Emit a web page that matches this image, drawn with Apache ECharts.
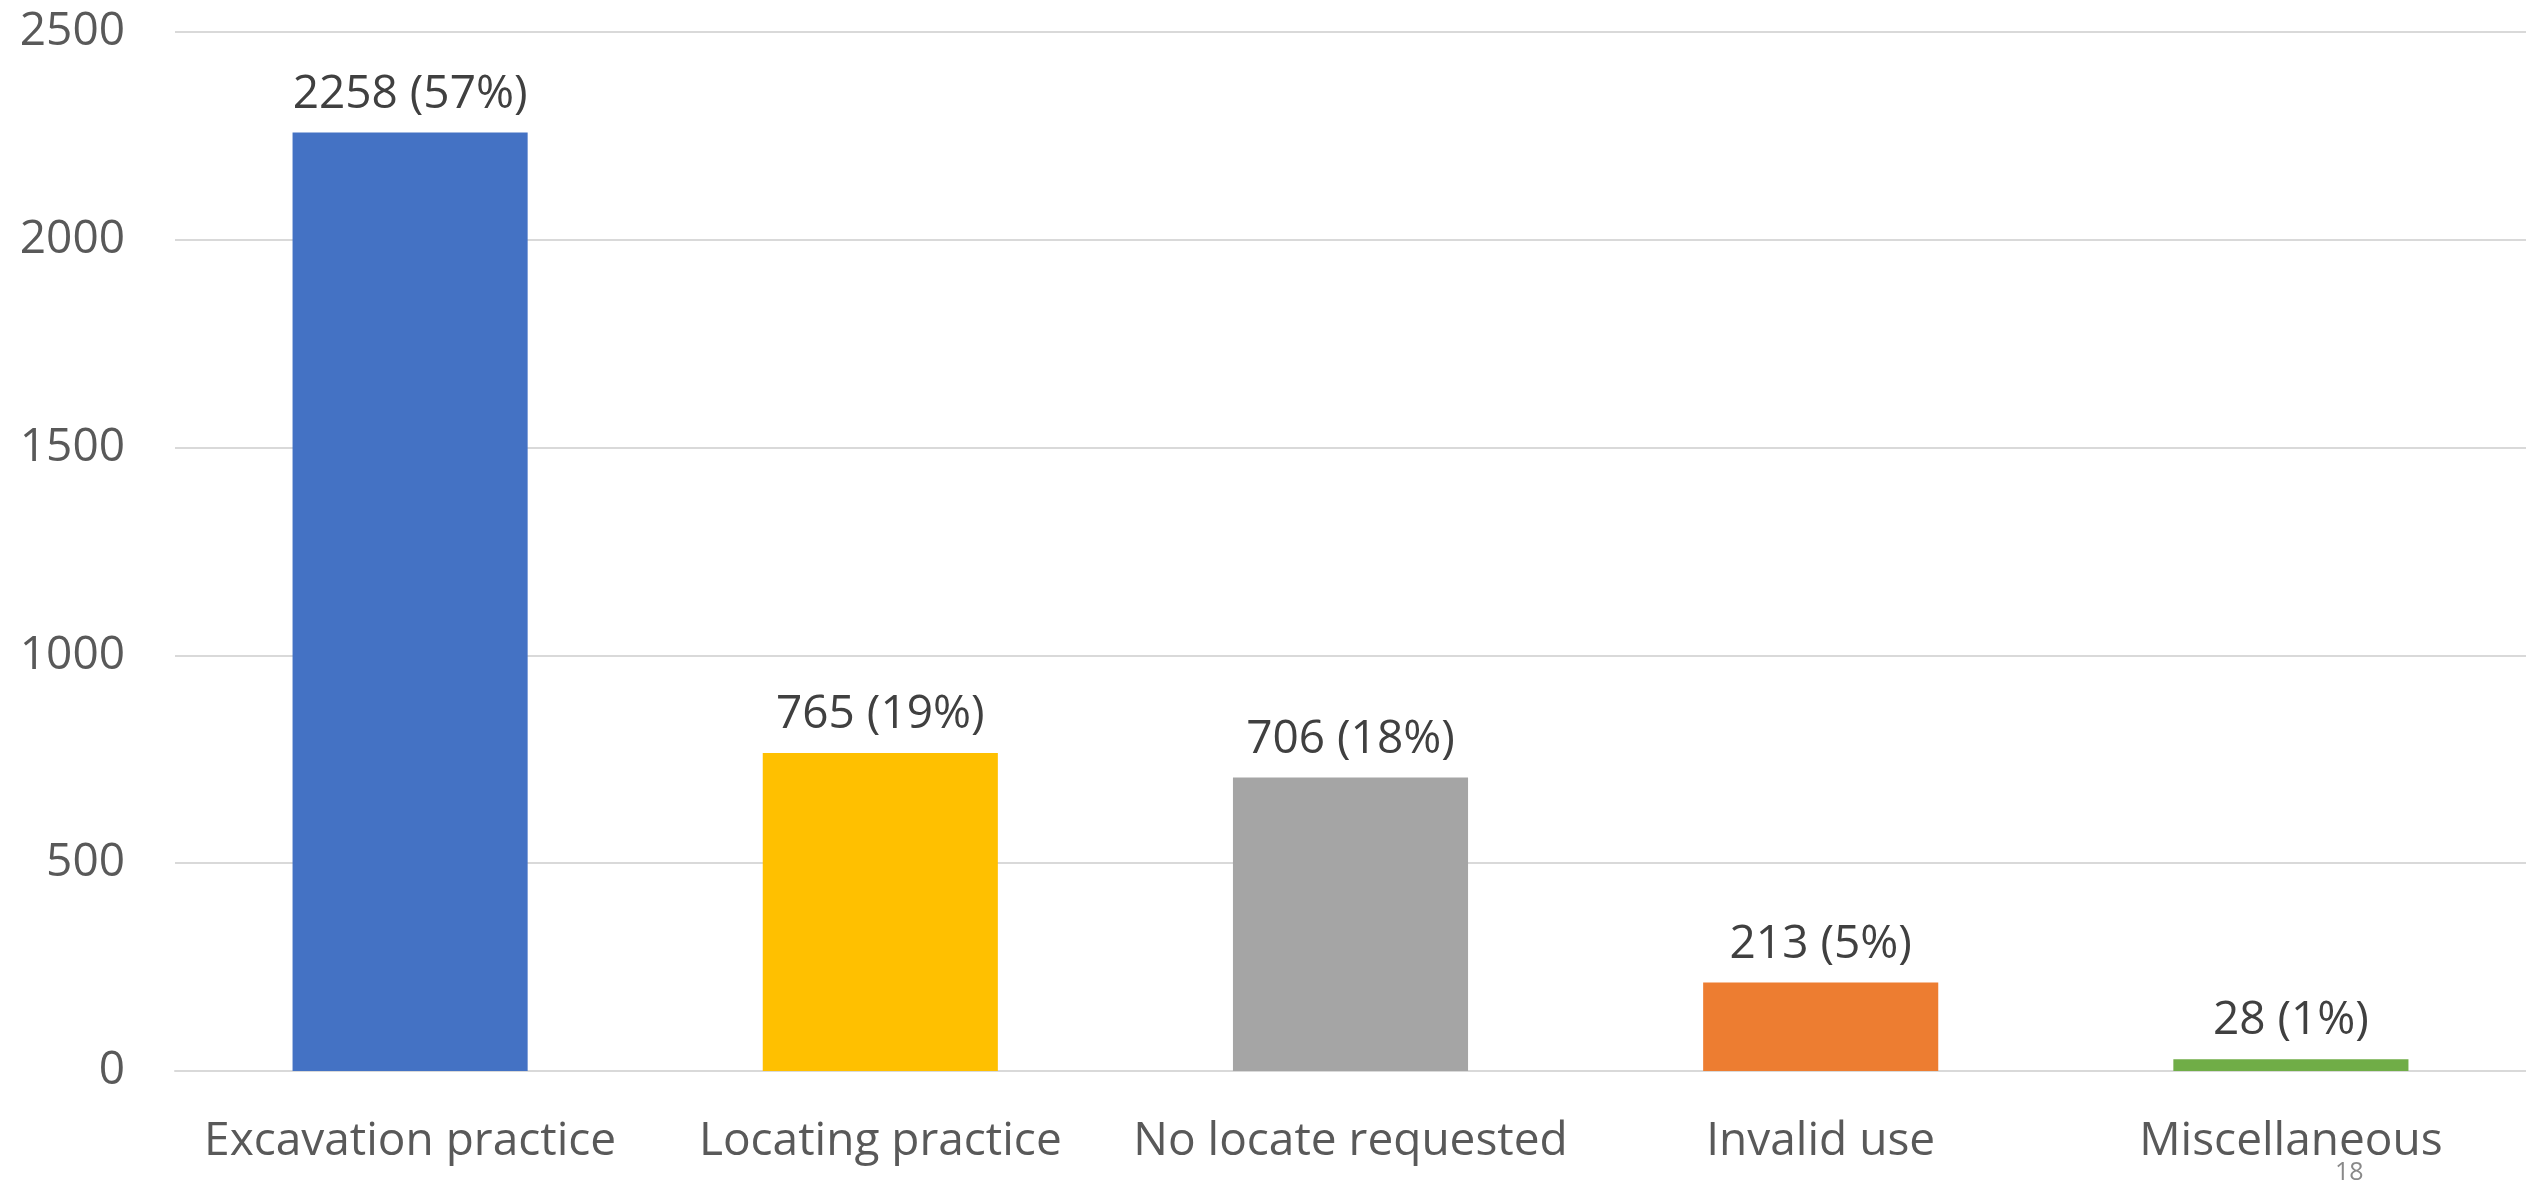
<!DOCTYPE html>
<html>
<head>
<meta charset="utf-8">
<script src="https://cdn.jsdelivr.net/npm/echarts@6/dist/echarts.min.js"></script>
<style>
  html, body { margin: 0; padding: 0; background: #fff; }
  #chart { width: 2526px; height: 1189px; }
</style>
</head>
<body>
<div id="chart"></div>
<script>
const categories = ['Excavation practice', 'Locating practice', 'No locate requested', 'Invalid use', 'Miscellaneous']
const counts = [2258, 765, 706, 213, 28]
const percents = [57, 19, 18, 5, 1]
const barColors = ['#4472C4', '#FFC000', '#A5A5A5', '#ED7D31', '#70AD47']
const yTicks = [0, 500, 1000, 1500, 2000, 2500]

const font = '"Open Sans", "Noto Sans", sans-serif'

const chart = echarts.init(document.getElementById('chart'))
chart.setOption({
  animation: false,
  grid: { left: 175, right: 0, top: 32, bottom: 118, containLabel: false },
  xAxis: {
    type: 'category',
    data: categories,
    axisTick: { show: false },
    axisLine: { lineStyle: { color: '#d9d9d9', width: 2 } },
    axisLabel: { interval: 0, color: '#595959', fontSize: 46, fontFamily: font, margin: 48 }
  },
  yAxis: {
    type: 'value',
    min: yTicks[0],
    max: yTicks[yTicks.length - 1],
    interval: 500,
    axisLine: { show: false },
    axisTick: { show: false },
    splitLine: { lineStyle: { color: '#d9d9d9', width: 2 } },
    axisLabel: { color: '#595959', fontSize: 46, fontFamily: font, margin: 50, formatter: (v) => String(v) }
  },
  series: [{
    type: 'bar',
    barWidth: '50%',
    data: counts.map((v, i) => ({ value: v, itemStyle: { color: barColors[i] } })),
    label: {
      show: true,
      position: 'top',
      distance: 15,
      color: '#404040',
      fontSize: 46,
      fontFamily: font,
      formatter: (p) => p.value + ' (' + percents[p.dataIndex] + '%)'
    }
  }],
  graphic: [{
    type: 'text',
    left: 2335,
    top: 1160,
    style: { text: '18', fill: '#898989', fontSize: 25, fontFamily: font }
  }]
})
</script>
</body>
</html>
